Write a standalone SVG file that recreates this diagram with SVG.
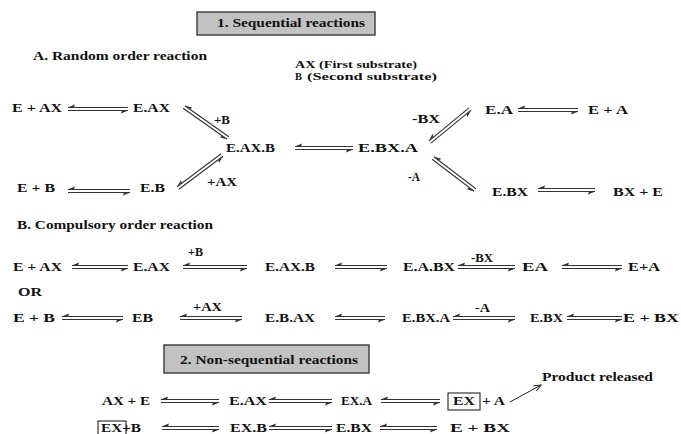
<svg xmlns="http://www.w3.org/2000/svg" width="681" height="434" viewBox="0 0 681 434" font-family="Liberation Serif, Times New Roman, serif" font-weight="bold">
<style>
text{font-size:12.5px;fill:#111}
.lg{font-size:10.5px}
.eq{fill:none;stroke:#333;stroke-width:1.1}
.hdr{fill:#c2c2c2;stroke:#444;stroke-width:1.5}
.bx{fill:none;stroke:#222;stroke-width:1.1}
.ptr{fill:none;stroke:#222;stroke-width:1}
</style>
<defs>
<marker id="h" markerUnits="userSpaceOnUse" markerWidth="10" markerHeight="10" viewBox="-9 -5 10 10" refX="0" refY="0" orient="auto" overflow="visible">
<path d="M0.3,0 L-7,3 L-6.2,0.4 Z" fill="#333"/>
</marker>
<marker id="o" markerUnits="userSpaceOnUse" markerWidth="10" markerHeight="10" viewBox="-9 -5 10 10" refX="0" refY="0" orient="auto" overflow="visible">
<path d="M-7,-3 L0,0 L-7,3" fill="none" stroke="#222" stroke-width="1"/>
</marker>
</defs>
<rect width="681" height="434" fill="#fff"/>

<g id="header1"><rect class="hdr" x="197" y="12" width="178" height="23"/><text x="217" y="27" textLength="148" lengthAdjust="spacingAndGlyphs">1. Sequential reactions</text></g>
<g id="labelA"><text x="33" y="60" textLength="174" lengthAdjust="spacingAndGlyphs">A. Random order reaction</text></g>
<g id="legend"><text class="lg" x="295" y="68" textLength="122" lengthAdjust="spacingAndGlyphs">AX (First substrate)</text><text class="lg" x="295" y="80">B<tspan x="307" textLength="130" lengthAdjust="spacingAndGlyphs">(Second substrate)</tspan></text></g>

<g id="a_E_AX"><text x="12" y="112" textLength="50" lengthAdjust="spacingAndGlyphs">E + AX</text></g>
<g id="a_EAX"><text x="133" y="112" textLength="37" lengthAdjust="spacingAndGlyphs">E.AX</text></g>
<g id="a_EAXB"><text x="226" y="152" textLength="49" lengthAdjust="spacingAndGlyphs">E.AX.B</text></g>
<g id="a_EBXA"><text x="358" y="152" textLength="60" lengthAdjust="spacingAndGlyphs">E.BX.A</text></g>
<g id="a_EA"><text x="485" y="114" textLength="28" lengthAdjust="spacingAndGlyphs">E.A</text></g>
<g id="a_E_A"><text x="588" y="114" textLength="40" lengthAdjust="spacingAndGlyphs">E + A</text></g>
<g id="a_EBX"><text x="492" y="196" textLength="36" lengthAdjust="spacingAndGlyphs">E.BX</text></g>
<g id="a_BX_E"><text x="613" y="196" textLength="50" lengthAdjust="spacingAndGlyphs">BX + E</text></g>
<g id="a_E_B"><text x="17" y="192" textLength="38" lengthAdjust="spacingAndGlyphs">E + B</text></g>
<g id="a_EB"><text x="140" y="192" textLength="25" lengthAdjust="spacingAndGlyphs">E.B</text></g>

<g id="labelB"><text x="17" y="229" textLength="196" lengthAdjust="spacingAndGlyphs">B. Compulsory order reaction</text></g>
<g id="b1_E_AX"><text x="13" y="271" textLength="49" lengthAdjust="spacingAndGlyphs">E + AX</text></g>
<g id="b1_EAX"><text x="133" y="271" textLength="37" lengthAdjust="spacingAndGlyphs">E.AX</text></g>
<g id="b1_EAXB"><text x="265" y="271" textLength="50" lengthAdjust="spacingAndGlyphs">E.AX.B</text></g>
<g id="b1_EABX"><text x="403" y="271" textLength="52" lengthAdjust="spacingAndGlyphs">E.A.BX</text></g>
<g id="b1_EA"><text x="522" y="271" textLength="26" lengthAdjust="spacingAndGlyphs">EA</text></g>
<g id="b1_EpA"><text x="628" y="271" textLength="32" lengthAdjust="spacingAndGlyphs">E+A</text></g>
<g id="or"><text x="18" y="296" textLength="24" lengthAdjust="spacingAndGlyphs">OR</text></g>
<g id="b2_E_B"><text x="13" y="322" textLength="42" lengthAdjust="spacingAndGlyphs">E +  B</text></g>
<g id="b2_EB"><text x="132" y="322" textLength="21" lengthAdjust="spacingAndGlyphs">EB</text></g>
<g id="b2_EBAX"><text x="265" y="322" textLength="50" lengthAdjust="spacingAndGlyphs">E.B.AX</text></g>
<g id="b2_EBXA"><text x="402" y="322" textLength="48" lengthAdjust="spacingAndGlyphs">E.BX.A</text></g>
<g id="b2_EBX"><text x="530" y="322" textLength="33" lengthAdjust="spacingAndGlyphs">E.BX</text></g>
<g id="b2_E_BX"><text x="623" y="322" textLength="56" lengthAdjust="spacingAndGlyphs">E + BX</text></g>

<g id="header2"><rect class="hdr" x="164" y="345" width="205" height="28"/><text x="180" y="364" textLength="178" lengthAdjust="spacingAndGlyphs">2. Non-sequential reactions</text></g>
<g id="c1_AX_E"><text x="102" y="405" textLength="48" lengthAdjust="spacingAndGlyphs">AX + E</text></g>
<g id="c1_EAX"><text x="229" y="405" textLength="38" lengthAdjust="spacingAndGlyphs">E.AX</text></g>
<g id="c1_EXA"><text x="341" y="405" textLength="31" lengthAdjust="spacingAndGlyphs">EX.A</text></g>
<g id="c1_EX"><rect class="bx" x="448" y="393" width="32" height="17"/><text x="453" y="405" textLength="22" lengthAdjust="spacingAndGlyphs">EX</text></g>
<g id="c1_A"><text x="482" y="405" textLength="23" lengthAdjust="spacingAndGlyphs">+ A</text></g>
<g id="product"><text x="542" y="381" textLength="111" lengthAdjust="spacingAndGlyphs">Product released</text></g>
<g id="c2_EXB"><rect class="bx" x="98" y="421" width="28" height="17"/><text x="101" y="432" textLength="40" lengthAdjust="spacingAndGlyphs">EX+B</text></g>
<g id="c2_EXdB"><text x="230" y="432" textLength="37" lengthAdjust="spacingAndGlyphs">EX.B</text></g>
<g id="c2_EBX"><text x="336" y="432" textLength="36" lengthAdjust="spacingAndGlyphs">E.BX</text></g>
<g id="c2_E_BX"><text x="450" y="432" textLength="60" lengthAdjust="spacingAndGlyphs">E + BX</text></g>

<g id="connectors">
<path class="eq" d="M128 107.5 H68" marker-end="url(#h)"/><path class="eq" d="M68 110.5 H128" marker-end="url(#h)"/>
<path class="eq" d="M183.1 108.2 L227.1 139.2" marker-end="url(#h)"/><path class="eq" d="M228.9 136.8 L184.9 105.8" marker-end="url(#h)"/>
<path class="eq" d="M178.9 189.2 L222.9 156.2" marker-end="url(#h)"/><path class="eq" d="M221.1 153.8 L177.1 186.8" marker-end="url(#h)"/>
<path class="eq" d="M353 146.5 H295" marker-end="url(#h)"/><path class="eq" d="M295 149.5 H353" marker-end="url(#h)"/>
<path class="eq" d="M431 143.2 L471 110.2" marker-end="url(#h)"/><path class="eq" d="M469 107.8 L429 140.8" marker-end="url(#h)"/>
<path class="eq" d="M432.1 159.2 L474.1 191.2" marker-end="url(#h)"/><path class="eq" d="M475.9 188.8 L433.9 156.8" marker-end="url(#h)"/>
<path class="eq" d="M578 108.5 H518" marker-end="url(#h)"/><path class="eq" d="M518 111.5 H578" marker-end="url(#h)"/>
<path class="eq" d="M595 188.5 H538" marker-end="url(#h)"/><path class="eq" d="M538 191.5 H595" marker-end="url(#h)"/>
<path class="eq" d="M130 189.5 H68" marker-end="url(#h)"/><path class="eq" d="M68 192.5 H130" marker-end="url(#h)"/>
<text x="214" y="124" textLength="16" lengthAdjust="spacingAndGlyphs">+B</text>
<text x="207" y="186" textLength="30" lengthAdjust="spacingAndGlyphs">+AX</text>
<text x="412" y="123" textLength="28" lengthAdjust="spacingAndGlyphs">-BX</text>
<text x="408" y="181" textLength="12" lengthAdjust="spacingAndGlyphs">-A</text>
<path class="eq" d="M128 265.5 H72" marker-end="url(#h)"/><path class="eq" d="M72 268.5 H128" marker-end="url(#h)"/>
<path class="eq" d="M247 265.5 H183" marker-end="url(#h)"/><path class="eq" d="M183 268.5 H247" marker-end="url(#h)"/>
<path class="eq" d="M387 265.5 H335" marker-end="url(#h)"/><path class="eq" d="M335 268.5 H387" marker-end="url(#h)"/>
<path class="eq" d="M515 265.5 H458" marker-end="url(#h)"/><path class="eq" d="M458 268.5 H515" marker-end="url(#h)"/>
<path class="eq" d="M622 265.5 H562" marker-end="url(#h)"/><path class="eq" d="M562 268.5 H622" marker-end="url(#h)"/>
<text x="188" y="256" textLength="15" lengthAdjust="spacingAndGlyphs">+B</text>
<text x="471" y="262" textLength="22" lengthAdjust="spacingAndGlyphs">-BX</text>
<path class="eq" d="M123 316.5 H62" marker-end="url(#h)"/><path class="eq" d="M62 319.5 H123" marker-end="url(#h)"/>
<path class="eq" d="M242 316.5 H180" marker-end="url(#h)"/><path class="eq" d="M180 319.5 H242" marker-end="url(#h)"/>
<path class="eq" d="M385 316.5 H335" marker-end="url(#h)"/><path class="eq" d="M335 319.5 H385" marker-end="url(#h)"/>
<path class="eq" d="M515 316.5 H453" marker-end="url(#h)"/><path class="eq" d="M453 319.5 H515" marker-end="url(#h)"/>
<path class="eq" d="M622 316.5 H567" marker-end="url(#h)"/><path class="eq" d="M567 319.5 H622" marker-end="url(#h)"/>
<text x="193" y="311" textLength="29" lengthAdjust="spacingAndGlyphs">+AX</text>
<text x="475" y="312" textLength="15" lengthAdjust="spacingAndGlyphs">-A</text>
<path class="eq" d="M219 399.5 H161" marker-end="url(#h)"/><path class="eq" d="M161 402.5 H219" marker-end="url(#h)"/>
<path class="eq" d="M332 399.5 H269" marker-end="url(#h)"/><path class="eq" d="M269 402.5 H332" marker-end="url(#h)"/>
<path class="eq" d="M440 399.5 H381" marker-end="url(#h)"/><path class="eq" d="M381 402.5 H440" marker-end="url(#h)"/>
<path class="eq" d="M219 426.5 H162" marker-end="url(#h)"/><path class="eq" d="M162 429.5 H219" marker-end="url(#h)"/>
<path class="eq" d="M332 426.5 H269" marker-end="url(#h)"/><path class="eq" d="M269 429.5 H332" marker-end="url(#h)"/>
<path class="eq" d="M437 426.5 H380" marker-end="url(#h)"/><path class="eq" d="M380 429.5 H437" marker-end="url(#h)"/>
<path class="ptr" d="M510 402 L541 385" marker-end="url(#o)"/>
</g>
</svg>
